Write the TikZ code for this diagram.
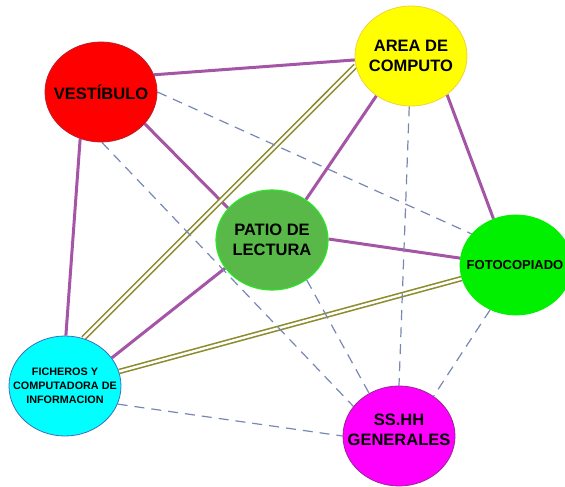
\documentclass[tikz,border=0pt]{standalone}
\usepackage{fontspec}
\setmainfont{Liberation Sans}
\usetikzlibrary{positioning,shapes.geometric,backgrounds}
\definecolor{rojo}{RGB}{255,0,0}
\definecolor{bordorojo}{RGB}{190,30,45}
\definecolor{amarillo}{RGB}{255,255,0}
\definecolor{bordoamarillo}{RGB}{240,210,60}
\definecolor{verdepatio}{RGB}{88,184,72}
\definecolor{bordopatio}{RGB}{40,230,40}
\definecolor{verdefoto}{RGB}{0,240,0}
\definecolor{celeste}{RGB}{0,255,255}
\definecolor{bordoceleste}{RGB}{60,110,190}
\definecolor{fucsia}{RGB}{255,0,255}
\definecolor{bordofucsia}{RGB}{150,40,150}
\definecolor{morado}{RGB}{165,85,165}
\definecolor{oliva}{RGB}{140,140,45}
\definecolor{grisazul}{RGB}{120,135,180}

\begin{document}
\begin{tikzpicture}[x=1pt, y=-1pt,
  ambiente/.style 2 args={ellipse, draw=#2, fill=#1, line width=0.8pt,
    minimum width=112pt, minimum height=100pt, inner sep=0pt},
  rotulo/.style={align=center, text=black,
    font=\bfseries\fontsize{16.5}{20}\selectfont},
  fuerte/.style={draw=morado, line width=3pt},
  doble/.style={draw=oliva, line width=1.6pt, double=white,
    double distance=2.4pt},
  debil/.style={draw=grisazul, line width=1.2pt,
    dash pattern=on 10pt off 7pt},
]
  \useasboundingbox (0,0) rectangle (565,487);
  % Ambientes
  \node[ambiente={rojo}{bordorojo},
    label={[rotulo]center:VESTÍBULO}] (vest) at (101,92) {};
  \node[ambiente={amarillo}{bordoamarillo},
    label={[rotulo]center:AREA DE\\COMPUTO}] (area) at (411,56) {};
  \node[ambiente={verdepatio}{bordopatio}, line width=1.2pt,
    label={[rotulo]center:PATIO DE\\LECTURA}] (patio) at (272,240) {};
  \node[ambiente={verdefoto}{verdefoto},
    label={[rotulo, xshift=-1pt, font=\bfseries\fontsize{13}{16}\selectfont]center:FOTOCOPIADO}]
    (foto) at (516,265) {};
  \node[ambiente={celeste}{bordoceleste},
    label={[rotulo, font=\bfseries\fontsize{10.8}{14}\selectfont]center:FICHEROS Y\\COMPUTADORA DE\\INFORMACION}]
    (fich) at (65,386) {};
  \node[ambiente={fucsia}{bordofucsia},
    label={[rotulo, yshift=6pt]center:SS.HH\\GENERALES}] (sshh) at (399,436) {};
  % Relaciones
  \begin{scope}[on background layer]
    \foreach \a/\b in {vest.18/area.184, vest.-36/patio.144, vest.246/fich.89,
      area.229/patio.50, area.-47/foto.116, patio.1/foto.173, patio.211/fich.31}
      \draw[fuerte] (\a) -- (\b);
    \foreach \a/\b in {area.190/fich.69, foto.194/fich.15}
      \draw[doble] (\a) -- (\b);
    \foreach \a/\b in {vest.0/foto.145, vest.-89/sshh.147, area.-92/sshh.90,
      patio.-49/sshh.125, foto.240/sshh.49, fich.-19/sshh.180}
      \draw[debil] (\a) -- (\b);
  \end{scope}
\end{tikzpicture}
\end{document}
